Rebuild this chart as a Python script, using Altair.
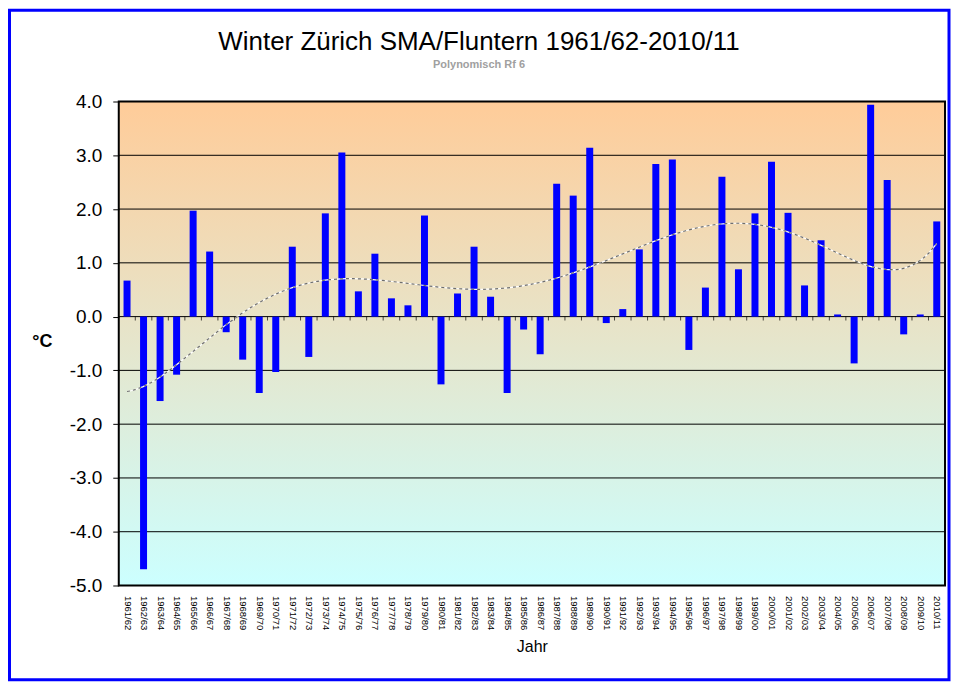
import altair as alt
import pandas as pd

labels = ["1961/62","1962/63","1963/64","1964/65","1965/66","1966/67","1967/68","1968/69","1969/70","1970/71",
          "1971/72","1972/73","1973/74","1974/75","1975/76","1976/77","1977/78","1978/79","1979/80","1980/81",
          "1981/82","1982/83","1983/84","1984/85","1985/86","1986/87","1987/88","1988/89","1989/90","1990/91",
          "1991/92","1992/93","1993/94","1994/95","1995/96","1996/97","1997/98","1998/99","1999/00","2000/01",
          "2001/02","2002/03","2003/04","2004/05","2005/06","2006/07","2007/08","2008/09","2009/10","2010/11"]
values = [0.67, -4.70, -1.57, -1.08, 1.97, 1.21, -0.29, -0.80, -1.42, -1.03,
          1.30, -0.75, 1.92, 3.05, 0.47, 1.17, 0.34, 0.21, 1.88, -1.26,
          0.43, 1.30, 0.37, -1.42, -0.24, -0.70, 2.47, 2.25, 3.14, -0.12,
          0.14, 1.25, 2.84, 2.92, -0.62, 0.54, 2.60, 0.88, 1.92, 2.88,
          1.93, 0.58, 1.42, 0.04, -0.87, 3.94, 2.54, -0.33, 0.04, 1.77]
y_ticks = [-5, -4, -3, -2, -1, 0, 1, 2, 3, 4]
idx = list(range(1, len(labels) + 1))

df = pd.DataFrame({"idx": idx, "label": labels, "v": values})
grid_df = pd.DataFrame({"v": y_ticks})

W, H = 828, 485
PL, PT = 111, 93
PR, PB = 945 - PL - W, 674 - PT - H

label_arr = "[" + ",".join("'" + l + "'" for l in labels) + "]"

xscale = alt.Scale(domain=[0.5, len(labels) + 0.5], nice=False, zero=False, padding=0)
yscale = alt.Scale(domain=[min(y_ticks), max(y_ticks)], nice=False, zero=False, padding=0)

x_axis = alt.Axis(values=idx, labelExpr=label_arr + "[datum.value - 1]",
                  labelAngle=90, labelFontSize=9.5,
                  labelFont="Liberation Sans Narrow, Arial Narrow, Liberation Sans",
                  labelColor="black", labelPadding=10, ticks=False, domain=False, grid=False,
                  labelOverlap=False, labelFlush=False, labelBound=False,
                  title="Jahr", titleFontSize=16, titleFontWeight="normal", titleFont="Liberation Sans, Arial",
                  titleColor="black", titleY=61, titleBaseline="middle", titleX=414)
y_axis = alt.Axis(values=y_ticks,
                  labelExpr="(datum.value < 0 ? '-' : '') + format(abs(datum.value), '.1f')",
                  labelFontSize=19, labelFont="Liberation Sans, Arial", labelColor="black",
                  labelPadding=11, tickSize=6, tickColor="black", tickWidth=1,
                  domain=False, grid=False, zindex=1, labelOverlap=False,
                  title="°C", titleAngle=0, titleFontSize=18, titleFontWeight="bold",
                  titleFont="Liberation Sans, Arial", titleColor="black",
                  titleX=-77, titleY=241, titleAlign="center", titleBaseline="middle")

X = alt.X("idx:Q", scale=xscale, axis=x_axis)
Y = alt.Y("v:Q", scale=yscale, axis=y_axis)

base = alt.Chart(df)

gradient = alt.LinearGradient(gradient="linear", x1=0, y1=0, x2=0, y2=1,
                              stops=[alt.GradientStop(color="#FFCC99", offset=0),
                                     alt.GradientStop(color="#CCFFFF", offset=1)])

bg = alt.Chart(alt.Data(values=[{"f": 1}])).mark_rect(fill=gradient, stroke=None).encode(
    x=alt.value(0), x2=alt.value(W), y=alt.value(0), y2=alt.value(H)
)

grid = alt.Chart(grid_df).mark_rule(color="black", strokeWidth=1).encode(y=Y)

bars = base.mark_bar(color="#0000FF", size=7).encode(x=X, y=Y)

zero_ticks = base.transform_filter("datum.idx < %d" % len(labels)).transform_calculate(
    b="datum.idx + 0.5", z="0"
).mark_tick(color="black", orient="vertical", size=4, thickness=1, yOffset=2).encode(
    x=alt.X("b:Q", scale=xscale, axis=x_axis),
    y=alt.Y("z:Q", scale=yscale, axis=y_axis),
)

trend_white = base.transform_regression("idx", "v", method="poly", order=6).mark_line(
    color="white", strokeWidth=1.2
).encode(x=X, y=Y)

trend_gray = base.transform_regression("idx", "v", method="poly", order=6).mark_line(
    color="#6E6E6E", strokeWidth=1.2, strokeDash=[3, 3]
).encode(x=X, y=Y)

plot_border = alt.Chart(alt.Data(values=[{"f": 1}])).mark_rect(
    fill=None, stroke="black", strokeWidth=2, clip=False
).encode(x=alt.value(0), x2=alt.value(W), y=alt.value(0), y2=alt.value(H))

frame = alt.Chart(alt.Data(values=[{"f": 1}])).mark_rect(
    fill=None, stroke="#0000FF", strokeWidth=3, clip=False
).encode(
    x=alt.value(-109.5), x2=alt.value(832),
    y=alt.value(-91.5), y2=alt.value(579.5),
)

chart = alt.layer(bg, grid, bars, trend_white, trend_gray, zero_ticks, plot_border, frame).properties(
    width=W, height=H,
    autosize=alt.AutoSizeParams(type="none"),
    padding={"left": PL, "top": PT, "right": PR, "bottom": PB},
    background="white",
    title=alt.TitleParams(
        text="Winter Zürich SMA/Fluntern 1961/62-2010/11",
        subtitle="Polynomisch Rf 6",
        font="Liberation Sans, Arial", fontSize=26, fontWeight="normal", color="black",
        subtitleFont="Liberation Sans, Arial", subtitleFontSize=11, subtitleFontWeight="bold",
        subtitleColor="#A0A0A0", subtitlePadding=4,
        anchor="middle", frame="group", dx=-53, dy=61, offset=0,
    ),
).configure_view(stroke=None).configure_axis(labelOverlap=False)

chart.save("out.html", embed_options={"renderer": "svg", "actions": False})
